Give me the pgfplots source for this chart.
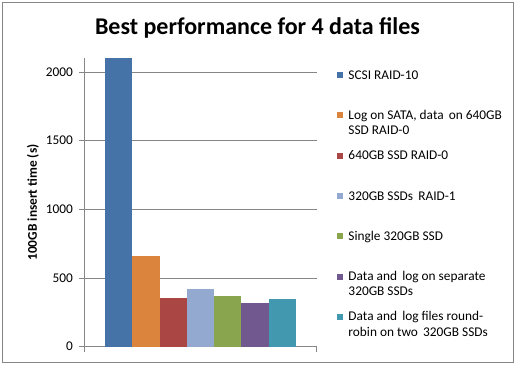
\documentclass[border=0pt]{standalone}
\usepackage{pgfplots}
\pgfplotsset{compat=1.18}
\usepackage{fontspec}
\setmainfont{Carlito}
\definecolor{cA}{HTML}{4572A7}
\definecolor{cB}{HTML}{DB843D}
\definecolor{cC}{HTML}{AA4643}
\definecolor{cD}{HTML}{93A9CF}
\definecolor{cE}{HTML}{89A54E}
\definecolor{cF}{HTML}{71588F}
\definecolor{cG}{HTML}{4198AF}
\definecolor{lgray}{HTML}{868686}
\newcommand{\two}[2]{\begin{tabular}[t]{@{}l@{}}#1\\#2\end{tabular}}
\begin{document}
\begin{tikzpicture}
\useasboundingbox (0bp,0bp) rectangle (518bp,365bp);
\fill[white] (0bp,0bp) rectangle (518bp,365bp);
\draw[lgray, line width=0.9bp] (2.3bp,2.7bp) rectangle (513.3bp,362.7bp);
\node[font=\fontsize{24bp}{28bp}\selectfont\bfseries, anchor=base] at (257.5bp,330bp) {Best performance for 4 data files};
\begin{axis}[
  at={(84.3bp,18.3bp)}, anchor=south west,
  scale only axis, width=232.4bp, height=288.4bp,
  xmin=-0.5, xmax=0.5, ymin=0, ymax=2100,
  ybar=0pt, bar width=27.3bp,
  axis lines*=left,
  axis line style={lgray, line width=0.8bp},
  xtick={-0.5,0.5}, xticklabels={},
  ytick={0,500,1000,1500,2000},
  tick align=outside, major tick length=5bp,
  tick style={lgray, line width=0.8bp},
  ymajorgrids, grid style={lgray, line width=0.8bp},
  /pgf/number format/assume math mode=true,
  /pgf/number format/1000 sep={},
  ticklabel style={font=\fontsize{13.33bp}{16bp}\selectfont},
  yticklabel style={xshift=-3bp},
  ylabel={100GB insert time (s)},
  ylabel style={at={(axis description cs:-0.2207,0.5)}, anchor=center, font=\fontsize{13.33bp}{16bp}\selectfont\bfseries},
  legend image code/.code={\fill[#1] (0bp,1bp) rectangle (6bp,7bp); \path (0bp,0bp);},
  legend style={at={(axis description cs:1.0886,0.963)}, anchor=north west, draw=none, fill=none,
    inner sep=0pt, row sep=0pt, column sep=5bp,
    nodes={inner sep=0pt, text height=10bp, text depth=30.3bp, anchor=base west,
      font=\fontsize{13.33bp}{15.3bp}\selectfont}},
  legend cell align=left,
]
\addplot[fill=cA, draw=none] coordinates {(0,2100)}; \addlegendentry{SCSI RAID-10}
\addplot[fill=cB, draw=none] coordinates {(0,660)}; \addlegendentry{\two{Log on SATA, data\, on 640GB}{SSD RAID-0}}
\addplot[fill=cC, draw=none] coordinates {(0,354)}; \addlegendentry{640GB SSD RAID-0}
\addplot[fill=cD, draw=none] coordinates {(0,420)}; \addlegendentry{320GB SSDs\, RAID-1}
\addplot[fill=cE, draw=none] coordinates {(0,369)}; \addlegendentry{Single 320GB SSD}
\addplot[fill=cF, draw=none] coordinates {(0,318)}; \addlegendentry{\two{Data and\, log on separate}{320GB SSDs}}
\addplot[fill=cG, draw=none] coordinates {(0,347)}; \addlegendentry{\two{Data and\, log files round-}{robin on two\, 320GB SSDs}}
\end{axis}
\end{tikzpicture}
\end{document}
